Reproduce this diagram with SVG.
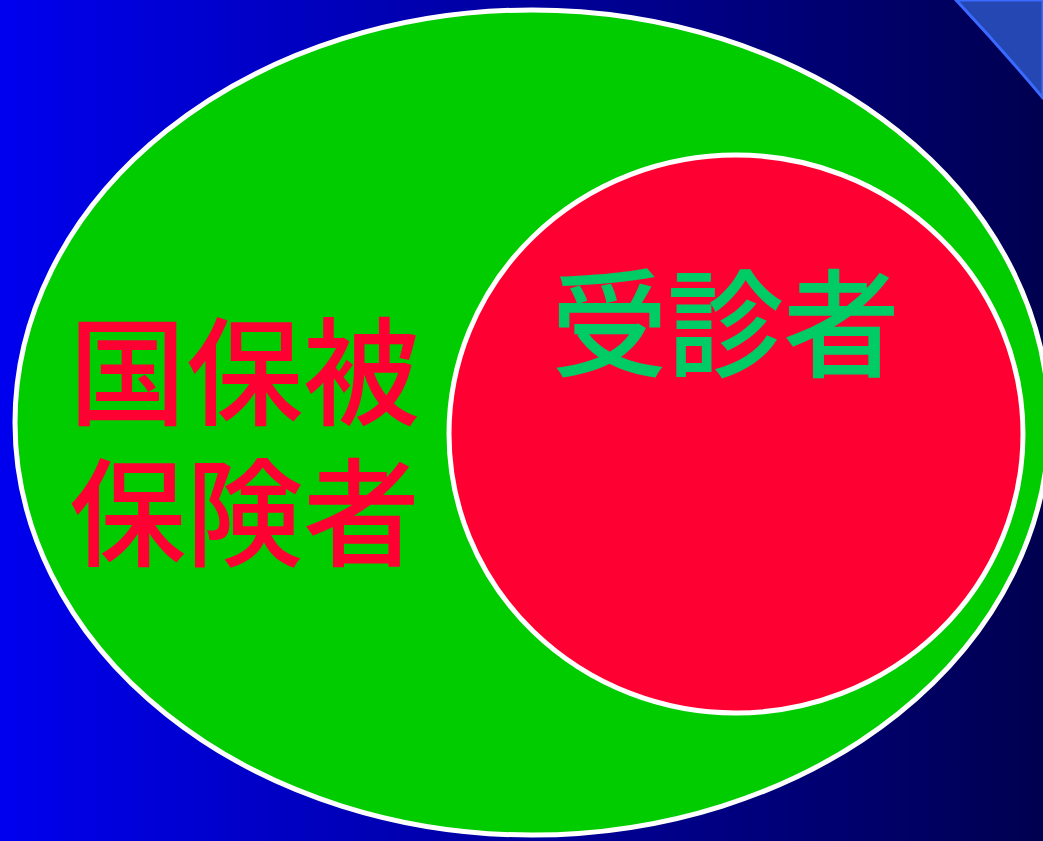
<svg xmlns="http://www.w3.org/2000/svg" width="1043" height="841" viewBox="0 0 1043 841">
<defs>
<linearGradient id="bg" x1="0" y1="0" x2="1" y2="0">
<stop offset="0" stop-color="#0000EE"/>
<stop offset="1" stop-color="#000050"/>
</linearGradient>
</defs>
<style>
.ring{stroke:#FFFFFF;stroke-width:5}
.lbl{font-family:"Noto Sans CJK JP","Noto Sans CJK SC",sans-serif;font-size:117px;font-weight:500}
</style>
<rect x="0" y="0" width="1043" height="841" fill="url(#bg)"/>
<path d="M956,0 Q1000,47 1043,98 L1043,0 Z" fill="#2447B3" stroke="#3A6AFF" stroke-width="3"/>
<g id="kokuho">
<ellipse cx="532" cy="422.5" rx="517" ry="412.5" fill="#00CC00" class="ring"/>
<text class="lbl" fill="#FF0033"><tspan x="69" y="416">国保被</tspan><tspan x="69" y="557">保険者</tspan></text>
</g>
<g id="jushinsha">
<ellipse cx="736" cy="434" rx="287" ry="279" fill="#FF0033" class="ring"/>
<text class="lbl" fill="#00CC66" x="551" y="368" letter-spacing="-1">受診者</text>
</g>
<g id="connectors"/>
</svg>
